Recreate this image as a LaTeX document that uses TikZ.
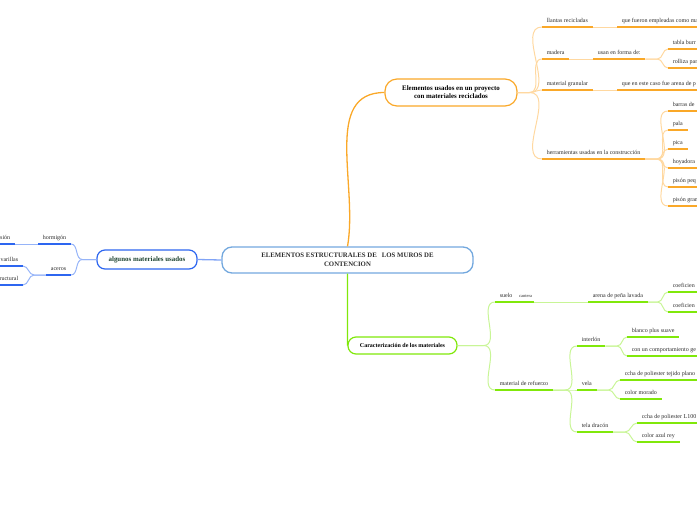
\documentclass[tikz,border=0pt]{standalone}
\usepackage{fontspec}
\setmainfont{Liberation Serif}
\definecolor{mmorange}{RGB}{250,168,40}
\definecolor{mmorangelt}{RGB}{255,216,160}
\definecolor{mmblue}{RGB}{45,102,240}
\definecolor{mmbluelt}{RGB}{150,180,248}
\definecolor{mmgreen}{RGB}{128,232,10}
\definecolor{mmgreenlt}{RGB}{200,245,150}
\definecolor{centralblue}{RGB}{115,168,222}
\definecolor{textgray}{RGB}{45,45,45}
\definecolor{algtext}{RGB}{30,68,50}
\usetikzlibrary{positioning}

\begin{document}
\begin{tikzpicture}[x=1pt, y=-1pt]
  \tikzstyle{central} = [rectangle, draw=centralblue, line width=1.3pt, rounded corners=10pt, minimum width=251pt, minimum height=26pt, align=center, text=textgray, font=\bfseries\fontsize{6.8}{8.5}\selectfont]
  \tikzstyle{main} = [rectangle, draw, line width=1.2pt, fill=white, align=center, text=black, font=\bfseries\fontsize{6.9}{8}\selectfont]
  \tikzstyle{topic} = [inner xsep=4.6pt, inner ysep=2.5pt, text depth=1.5pt, text=textgray, font=\fontsize{6}{7}\selectfont]
  \tikzstyle{tr} = [topic, anchor=south west]
  \tikzstyle{tl} = [topic, anchor=south east]
  \tikzstyle{ulo} = [draw=mmorange, line width=2.2pt]
  \tikzstyle{ulg} = [draw=mmgreen, line width=2.2pt]
  \tikzstyle{ulb} = [draw=mmblue, line width=2.2pt]
  \tikzstyle{lno} = [draw=mmorangelt, line width=1pt]
  \tikzstyle{lng} = [draw=mmgreenlt, line width=1pt]
  \tikzstyle{lnb} = [draw=mmbluelt, line width=1pt]

  \useasboundingbox (0,0) rectangle (697,520);
  \coordinate (edge) at (700,0);
  \coordinate (lft) at (-3,0);

  % main topics
  \node [central] (central) at (347.5,260) {ELEMENTOS ESTRUCTURALES DE \ \ LOS MUROS DE\\CONTENCION};
  \node [main, draw=mmorange, rounded corners=12pt, minimum width=132pt, minimum height=27pt] (elem) at (451,92.5) {Elementos usados en un proyecto\\con materiales reciclados};
  \node [main, draw=mmblue, text=algtext, rounded corners=8pt, minimum width=100pt, minimum height=19pt] (algunos) at (147,259.5) {algunos materiales usados};
  \node [main, draw=mmgreen, rounded corners=8pt, minimum width=109pt, minimum height=17pt, font=\bfseries\fontsize{6}{7}\selectfont] (carac) at (402.5,345.5) {Caracterización de los materiales};

  \draw [mmorange, line width=1.3pt] (central.north) to[out=80, in=180] (elem.west);
  \draw [mmgreen, line width=1.3pt] (central.south) -- (carac.west);
  \draw [mmbluelt!80!mmblue, line width=1.3pt] (central.west) -- (algunos.east);

  % materiales reciclados
  \node [tr] (llantas) at (542,27) {llantas recicladas};
  \node [tr] (fueron) at (617,27) {que fueron empleadas como ma};
  \node [tr] (madera) at (542,59) {madera};
  \node [tr] (usan) at (593,59) {usan en forma de:};
  \node [tr] (tabla) at (668,49) {tabla burr};
  \node [tr] (rolliza) at (668,68) {rolliza par};
  \node [tr] (granular) at (542,90) {material granular};
  \node [tr] (arenape) at (617,90) {que en este caso fue arena de p};
  \node [tr] (herram) at (542,159) {herramientas usadas en la construcción};
  \node [tr] (barras) at (668,111) {barras de};
  \node [tr] (pala) at (668,130) {pala};
  \node [tr] (pica) at (668,149) {pica};
  \node [tr] (hoyadora) at (668,168) {hoyadora};
  \node [tr] (pisonpeq) at (668,187) {pisón peq};
  \node [tr] (pisongran) at (668,206) {pisón gran};

  \foreach \c in {llantas, madera, granular, herram}
    \draw [lno] (elem.east) -- ++(12,0) to[out=0, in=180] (\c.south west);
  \draw [lno] (llantas.south east) -- (fueron.south west);
  \draw [lno] (madera.south east) -- (usan.south west);
  \draw [lno] (granular.south east) -- (arenape.south west);
  \foreach \c in {tabla, rolliza}
    \draw [lno] (usan.south east) -- ++(12,0) to[out=0, in=180] (\c.south west);
  \foreach \c in {barras, pala, pica, hoyadora, pisonpeq, pisongran}
    \draw [lno] (herram.south east) -- ++(12,0) to[out=0, in=180] (\c.south west);

  \foreach \n in {llantas, madera, usan, granular, herram, pala, pica}
    \draw [ulo] (\n.south west) -- (\n.south east);
  \foreach \n in {fueron, tabla, rolliza, arenape, barras, hoyadora, pisonpeq, pisongran}
    \draw [ulo] (\n.south west) -- (\n.south west -| edge);

  % caracterizacion
  \node [tr] (suelo) at (495,302) {suelo};
  \node [tr, inner xsep=2pt, font=\fontsize{4.5}{5}\selectfont] (cantera) at (517,302) {cantera};
  \node [tr] (arenalav) at (588,302) {arena de peña lavada};
  \node [tr] (coefa) at (668,292) {coeficien};
  \node [tr] (coefb) at (668,312) {coeficien};
  \node [tr] (refuerzo) at (495,390) {material de refuerzo};
  \node [tr] (interlon) at (577,346) {interlón};
  \node [tr] (blanco) at (627,337) {blanco plus suave};
  \node [tr] (comport) at (627,356) {con un comportamiento ge};
  \node [tr] (vela) at (577,390) {vela};
  \node [tr] (cchaplano) at (620,380) {ccha de poliester tejido plano};
  \node [tr] (morado) at (620,399) {color morado};
  \node [tr] (dracon) at (577,432) {tela dracón};
  \node [tr] (cchal) at (637,423) {ccha de poliester L100};
  \node [tr] (azul) at (637,442) {color azul rey};

  \foreach \c in {suelo, refuerzo}
    \draw [lng] (carac.east) -- ++(26,0) to[out=0, in=180] (\c.south west);
  \draw [lng] (suelo.south east) -- (cantera.south west);
  \draw [lng] (cantera.south east) -- (arenalav.south west);
  \foreach \c in {coefa, coefb}
    \draw [lng] (arenalav.south east) -- ++(10,0) to[out=0, in=180] (\c.south west);
  \foreach \c in {interlon, vela, dracon}
    \draw [lng] (refuerzo.south east) -- ++(12,0) to[out=0, in=180] (\c.south west);
  \foreach \c in {blanco, comport}
    \draw [lng] (interlon.south east) -- ++(12,0) to[out=0, in=180] (\c.south west);
  \foreach \c in {cchaplano, morado}
    \draw [lng] (vela.south east) -- ++(12,0) to[out=0, in=180] (\c.south west);
  \foreach \c in {cchal, azul}
    \draw [lng] (dracon.south east) -- ++(12,0) to[out=0, in=180] (\c.south west);

  \foreach \n in {suelo, cantera, arenalav, refuerzo, interlon, blanco, vela, morado, dracon, azul}
    \draw [ulg] (\n.south west) -- (\n.south east);
  \foreach \n in {coefa, coefb, comport, cchaplano, cchal}
    \draw [ulg] (\n.south west) -- (\n.south west -| edge);

  % algunos materiales
  \node [tl] (hormigon) at (71,244) {hormigón};
  \node [tl] (sion) at (15,244) {sión};
  \node [tl] (aceros) at (71,275) {aceros};
  \node [tl] (varillas) at (23,266) {varillas};
  \node [tl] (estruct) at (23,285) {ructural};

  \foreach \c in {hormigon, aceros}
    \draw [lnb] (algunos.west) -- ++(-14,0) to[out=180, in=0] (\c.south east);
  \draw [lnb] (hormigon.south west) -- (sion.south east);
  \foreach \c in {varillas, estruct}
    \draw [lnb] (aceros.south west) -- ++(-12,0) to[out=180, in=0] (\c.south east);

  \foreach \n in {hormigon, aceros}
    \draw [ulb] (\n.south west) -- (\n.south east);
  \foreach \n in {sion, varillas, estruct}
    \draw [ulb] (\n.south east) -- (\n.south east -| lft);
\end{tikzpicture}
\end{document}
